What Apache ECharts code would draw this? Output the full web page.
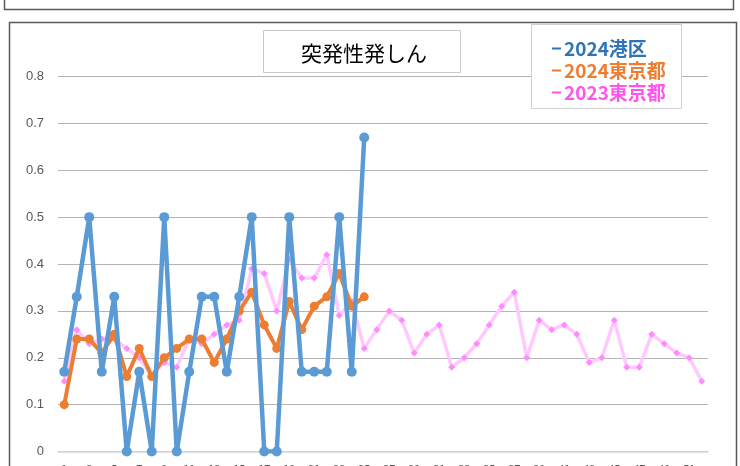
<!DOCTYPE html>
<html>
<head>
<meta charset="utf-8">
<script src="https://cdn.jsdelivr.net/npm/echarts@6/dist/echarts.min.js"></script>
<style>
html,body{margin:0;padding:0;background:#fff;}
#chart{width:740px;height:466px;}
</style>
</head>
<body>
<div id="chart"></div>
<script>
const weeks = ['1','2','3','4','5','6','7','8','9','10','11','12','13','14','15','16','17','18','19','20','21','22','23','24','25','26','27','28','29','30','31','32','33','34','35','36','37','38','39','40','41','42','43','44','45','46','47','48','49','50','51','52'];
const minato2024 = [0.17,0.33,0.5,0.17,0.33,0,0.17,0,0.5,0,0.17,0.33,0.33,0.17,0.33,0.5,0,0,0.5,0.17,0.17,0.17,0.5,0.17,0.67];
const tokyo2024 = [0.10,0.24,0.24,0.21,0.25,0.16,0.22,0.16,0.20,0.22,0.24,0.24,0.19,0.24,0.30,0.34,0.27,0.22,0.32,0.26,0.31,0.33,0.38,0.31,0.33];
const tokyo2023 = [0.15,0.26,0.23,0.24,0.24,0.22,0.20,0.16,0.19,0.18,0.24,0.23,0.25,0.27,0.28,0.39,0.38,0.30,0.41,0.37,0.37,0.42,0.29,0.32,0.22,0.26,0.30,0.28,0.21,0.25,0.27,0.18,0.20,0.23,0.27,0.31,0.34,0.20,0.28,0.26,0.27,0.25,0.19,0.20,0.28,0.18,0.18,0.25,0.23,0.21,0.20,0.15];
const yTicks = [0,0.1,0.2,0.3,0.4,0.5,0.6,0.7,0.8];

const chart = echarts.init(document.getElementById('chart'), null, {renderer:'canvas'});
const font = '"Noto Sans CJK JP", "Noto Sans", sans-serif';
chart.setOption({
  animation:false,
  backgroundColor:'#fff',
  textStyle:{fontFamily:font},
  title:{
    text:'突発性発しん',
    left:296, top:38,
    textStyle:{fontSize:21, fontWeight:'normal', color:'#000', fontFamily:font},
    z:12
  },
  graphic:[
    {type:'rect', z:0, shape:{x:4.5,y:-10,width:729,height:19.5}, style:{fill:'none',stroke:'#595959',lineWidth:1.5}},
    {type:'rect', z:0, shape:{x:9.5,y:22.5,width:727,height:460}, style:{fill:'none',stroke:'#595959',lineWidth:1.5}},
    {type:'rect', z:11, shape:{x:263.5,y:30.5,width:197,height:42}, style:{fill:'#fff',stroke:'#c8c8c8',lineWidth:1}},
    {type:'rect', z:11, shape:{x:531.5,y:24.5,width:150,height:84}, style:{fill:'#fff',stroke:'#d0d0d0',lineWidth:1}}
  ],
  legend:{
    orient:'vertical',
    left:547, top:34,
    itemGap:3,
    itemWidth:9, itemHeight:2,
    icon:'rect',
    z:12,
    textStyle:{fontSize:19, fontWeight:'bold', fontFamily:font, padding:[0,0,0,-2]},
    data:[
      {name:'2024港区', itemStyle:{color:'#2E75B6'}, textStyle:{color:'#2E75B6'}},
      {name:'2024東京都', itemStyle:{color:'#ED7D31'}, textStyle:{color:'#ED7D31'}},
      {name:'2023東京都', itemStyle:{color:'#FF55EE'}, textStyle:{color:'#FF55EE'}}
    ]
  },
  grid:{left:58, right:32, top:76.5, bottom:14.5, containLabel:false, outerBoundsMode:'none'},
  xAxis:{
    type:'category',
    data:weeks,
    boundaryGap:true,
    axisLine:{show:true, lineStyle:{color:'#d9d9d9', width:1.5}},
    axisTick:{show:false},
    axisLabel:{interval:1, color:'#595959', fontSize:11, margin:12},
    splitLine:{show:false}
  },
  yAxis:{
    type:'value',
    min:yTicks[0], max:yTicks[yTicks.length-1], interval:0.1,
    axisLine:{show:false},
    axisTick:{show:false},
    axisLabel:{color:'#595959', fontSize:13, margin:14, fontFamily:'"Liberation Sans", Arial, sans-serif'},
    splitLine:{lineStyle:{color:'#b4b4b4', width:1}}
  },
  series:[
    {
      name:'2023東京都', type:'line', data:tokyo2023,
      symbol:'diamond', symbolSize:7, showSymbol:true, showAllSymbol:true,
      lineStyle:{color:'#FFC8FF', width:3.5},
      itemStyle:{color:'#FF8CFF', borderWidth:0},
      z:2
    },
    {
      name:'2024東京都', type:'line', data:tokyo2024,
      symbol:'circle', symbolSize:9, showAllSymbol:true,
      lineStyle:{color:'#ED7D31', width:4},
      itemStyle:{color:'#ED7D31', borderWidth:0},
      z:3
    },
    {
      name:'2024港区', type:'line', data:minato2024,
      symbol:'circle', symbolSize:10, showAllSymbol:true,
      lineStyle:{color:'#5B9BD5', width:4.5},
      itemStyle:{color:'#5B9BD5', borderWidth:0},
      z:4
    }
  ]
});
</script>
</body>
</html>
